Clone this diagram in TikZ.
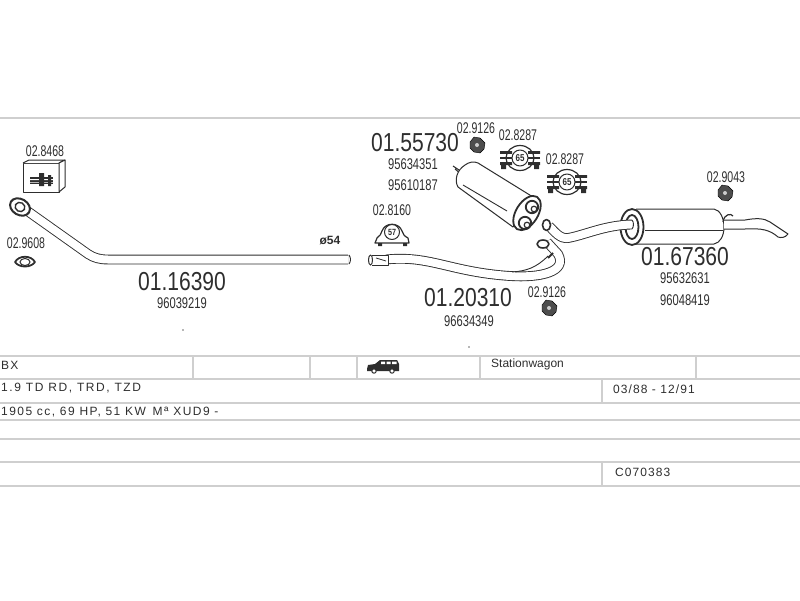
\documentclass[tikz,border=0pt]{standalone}
\usepackage{fontspec}
\setmainfont{Liberation Sans}
\usetikzlibrary{calc}
\definecolor{inkgray}{HTML}{2E2E2E}
\definecolor{rulegray}{HTML}{CFCFCF}
\tikzset{
    partno/.style={text=inkgray,inner sep=0pt,xscale=.81,transform shape,font=\fontsize{26}{26}\selectfont},
    refno/.style={text=inkgray,inner sep=0pt,xscale=.72,transform shape,font=\fontsize{15.5}{16}\selectfont},
    kitno/.style={text=inkgray,inner sep=0pt,xscale=.68,transform shape,font=\fontsize{15.5}{16}\selectfont},
    cell/.style={text=inkgray,inner sep=0pt,anchor=west,font=\fontsize{12}{12}\selectfont\addfontfeature{LetterSpace=9}},
    rowline/.style={draw=rulegray,line width=1.6pt},
    pipe/.style={draw=inkgray,line width=.9pt,double=white,double distance=8pt},
    outline/.style={draw=inkgray,line width=1pt,fill=white,line join=round},
    pics/nutsym/.style={code={
        \draw[fill=inkgray!85] (-7,-3) -- (-3,-8) -- (3,-7) -- (8,-2) -- (7,4) -- (3,8) -- (-3,7) -- (-7,3) -- cycle;
        \fill[gray!40] (0,0) circle (2);
    }},
    pics/clampsym/.style={code={
        \draw[outline,line width=1.2pt] (0,0) ellipse (14 and 12.5);
        \fill[inkgray] (-20,-7) rectangle (-8,-4.2) (8,-7) rectangle (20,-4.2);
        \fill[inkgray] (-20,-1.4) rectangle (20,1.4);
        \fill[inkgray] (-20,4.2) rectangle (-8,7) (8,4.2) rectangle (20,7);
        \fill[inkgray] (-19,7) rectangle (-14,11) (14,7) rectangle (19,11);
        \draw[outline] (0,0) circle (8);
        \node[text=inkgray,inner sep=0pt,xscale=.8,font=\fontsize{10}{10}\selectfont\bfseries] (-num) at (0,0) {#1};
    }}
}
\begin{document}
\begin{tikzpicture}[x=1pt,y=-1pt]
    \useasboundingbox (0,0) rectangle (800,600);
    % rows of the table
    \foreach \rowy in {118,356,379,403,420,439,462,486}
        \draw[rowline] (0,\rowy) -- (800,\rowy);
    \foreach \colx in {193,310,357,480,696}
        \draw[rowline] (\colx,356) -- (\colx,379);
    \draw[rowline] (602,379) -- (602,403);
    \draw[rowline] (602,462) -- (602,486);
    \node[cell] (modelname) at (1,365) {BX};
    \node[cell] (bodyname) at (491,364) {\addfontfeature{LetterSpace=0}Stationwagon};
    \node[cell] (enginename) at (1,388) {\addfontfeature{LetterSpace=13}1.9 TD RD, TRD, TZD};
    \node[cell] (yearspan) at (613,389) {03/88 - 12/91};
    \node[cell] (enginedata) at (1,412) {\addfontfeature{LetterSpace=12}1905 cc, 69 HP, 51 KW\, Mª XUD9 -};
    \node[cell] (kitcode) at (615,472) {C070383};
    % van
    \fill[inkgray] (367,369) -- (368,365) -- (375,364) -- (380,360) -- (397,360) -- (399,364) -- (399,371) -- (367,371) -- cycle;
    \fill[white] (381,361.5) rectangle (385,364) (386.5,361.5) rectangle (390.5,364) (392,361.5) rectangle (396.5,364);
    \draw[fill=white,draw=inkgray,line width=1pt] (374,371) circle (2.2) (392,371) circle (2.2);

    % front pipe
    \draw[pipe] (26,210) -- (88,254) .. controls (94,258) and (100,259.5) .. (108,259.5) -- (348,259.5);
    \draw[inkgray,line width=.9pt] (349,255) .. controls (351,258) and (351,261) .. (349,264);
    \draw[inkgray,line width=2pt,fill=white,rotate around={-30:(20,207)}] (20,207) ellipse (10.5 and 8);
    \draw[inkgray,line width=1.4pt,rotate around={-30:(20,207)}] (20,207) ellipse (5 and 4.5);
    \node[kitno] (boxlabel) at (45,151) {02.8468};
    \draw[outline] (23,163) rectangle (59,192);
    \draw[outline] (23,163) -- (29,160) -- (65,160) -- (59,163);
    \draw[outline] (59,163) -- (65,160) -- (65,187) -- (59,192) -- cycle;
    \fill[inkgray] (30,177) rectangle (53,184);
    \fill[white] (30,179) rectangle (53,180) (30,182) rectangle (53,182.7);
    \fill[inkgray] (39,173) rectangle (44,186) (48,175) rectangle (51,186);
    \node[kitno] (gasketlabel) at (26,243) {02.9608};
    \draw[outline,line width=1.8pt] (15,262) .. controls (19,255) and (31,255) .. (35,262) .. controls (31,268) and (19,268) .. cycle;
    \draw[inkgray,line width=1pt] (25,262) ellipse (5 and 3.5);
    \node[text=inkgray,inner sep=0pt,font=\fontsize{12}{12}\selectfont\bfseries] (sizelabel) at (330,241) {ø54};
    \node[partno] (frontno) at (182,282) {01.16390};
    \node[refno] (frontref) at (182,303) {96039219};
    \fill[inkgray!70] (183,330) circle (.8);

    % centre pipe
    \draw[pipe] (386,259.5) .. controls (430,255) and (450,272) .. (510,276) .. controls (540,278) and (568,272) .. (558,254) -- (547,242);
    \draw[inkgray,line width=.9pt] (512,272) .. controls (526,271) and (536,268) .. (548,256);
    \draw[outline] (372,255) -- (388,255) -- (388,265) -- (372,265);
    \draw[outline] (370.5,260) ellipse (2 and 5);
    \draw[inkgray,line width=.8pt] (376,258) -- (386,261);
    \draw[outline,line width=1.6pt] (543,244) ellipse (6 and 4);
    \draw[inkgray,line width=1.8pt] (548,258) -- (553,253);
    \node[kitno] (midclamp) at (392,210) {02.8160};
    \draw[outline,line width=1.2pt] (377,238) .. controls (380,236) and (381,234) .. (382,231) .. controls (385,222) and (399,222) .. (402,231) .. controls (403,234) and (404,236) .. (408,238) -- (409,243) -- (375,243) -- cycle;
    \fill[inkgray] (378,243) rectangle (382,246) (403,243) rectangle (407,246);
    \draw[outline] (392,232) circle (7.5);
    \node[text=inkgray,inner sep=0pt,xscale=.8,font=\fontsize{9}{9}\selectfont\bfseries] (midclampno) at (392,232) {57};
    \node[partno] (centreno) at (468,298) {01.20310};
    \node[refno] (centreref) at (469,321) {96634349};
    \node[kitno] (nutlabelb) at (547,292) {02.9126};
    \pic (nutb) at (549,308) {nutsym};
    \fill[inkgray!70] (469,347) circle (.8);

    % centre silencer
    \draw[inkgray,line width=1pt] (453,166) -- (462,172) (455,169) -- (461,174);
    \draw[outline] (478,163) -- (533,197) -- (513,227) -- (458,187) .. controls (454,180) and (457,170) .. (465,165) .. controls (469,162) and (474,161) .. cycle;
    \draw[inkgray,line width=.9pt] (463,185) -- (507,211);
    \draw[outline,line width=1.8pt,rotate around={58:(527,213)}] (527,213) ellipse (19 and 11);
    \draw[outline,line width=1.8pt] (532,207) circle (6.2);
    \draw[outline,line width=1.8pt] (525,223) circle (6.2);
    \draw[inkgray,line width=1.2pt] (534,209) circle (2.8) (527,225) circle (2.8);
    \node[partno] (silencerno) at (415,143) {01.55730};
    \node[refno] (silencerref) at (413,164) {95634351};
    \node[refno] (silencerrefb) at (413,185) {95610187};
    \node[kitno] (nutlabela) at (476,128) {02.9126};
    \pic (nuta) at (477,145) {nutsym};
    \node[kitno] (clamplabela) at (518,135) {02.8287};
    \pic (clampa) at (520,158) {clampsym=65};
    \node[kitno] (clamplabelb) at (565,159) {02.8287};
    \pic (clampb) at (567,182) {clampsym=65};

    % rear silencer and pipes
    \draw[outline] (636,209) -- (714,209) .. controls (720,210) and (724,218) .. (724,227) .. controls (724,236) and (720,243) .. (714,244) -- (636,244);
    \draw[inkgray,line width=.9pt] (645,230) -- (723,230);
    \draw[inkgray,line width=1.8pt,even odd rule,fill=white] (632,227) ellipse (11.5 and 18) (632,227) ellipse (6.5 and 12);
    \draw[pipe] (549,226) .. controls (555,232) and (560,239) .. (568,238) .. controls (585,235) and (605,225) .. (632,224.5);
    \draw[inkgray,line width=.9pt] (632,220) .. controls (634,222) and (634,227) .. (632,229);
    \draw[outline,line width=1.6pt] (546.5,225) ellipse (4 and 5.5);
    \draw[outline] (724,220) -- (745,220) .. controls (756,218) and (764,218) .. (770,222) -- (788,234) .. controls (785,238) and (781,238) .. (778,237) .. controls (770,230) and (762,228) .. (745,229) -- (724,229);
    \draw[inkgray,line width=1.2pt] (723,222) .. controls (724,214) and (731,213) .. (733,216);
    \node[partno] (rearno) at (685,257) {01.67360};
    \node[refno] (rearref) at (685,278) {95632631};
    \node[refno] (rearrefb) at (685,300) {96048419};
    \node[kitno] (nutlabelc) at (726,177) {02.9043};
    \pic (nutc) at (725,193) {nutsym};
\end{tikzpicture}
\end{document}
